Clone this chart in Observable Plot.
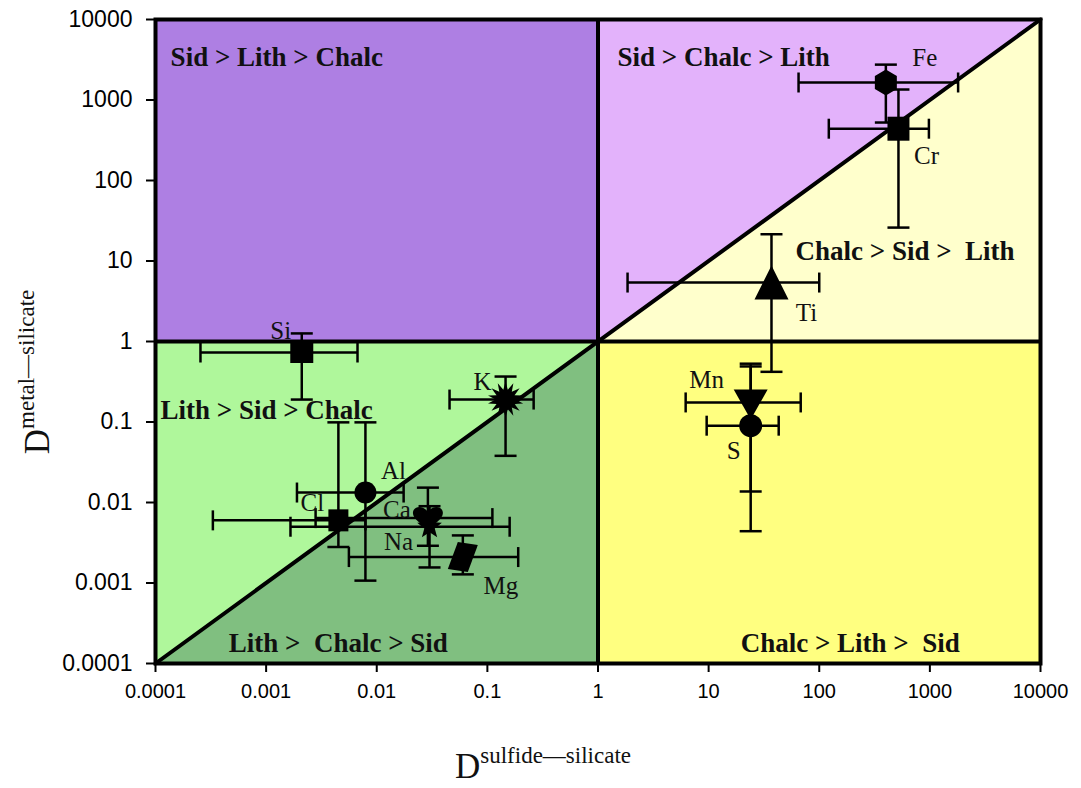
<!DOCTYPE html>
<html>
<head>
<meta charset="utf-8">
<script src="https://cdn.jsdelivr.net/npm/d3@7"></script>
<script src="https://cdn.jsdelivr.net/npm/@observablehq/plot@0.6"></script>
<style>
  body { margin: 0; background: #fff; }
  #chart svg { display: block; background: #fff; overflow: visible; }
</style>
</head>
<body>
<div id="chart"></div>
<script>
// Partition coefficients (sulfide/silicate vs metal/silicate) with error ranges
const elements     = ["Fe", "Cr", "Ti", "Mn", "S", "Si", "K", "Al", "Cl", "Ca", "Na", "Mg"];
const dSulfide     = [400, 520, 37, 24, 24, 0.0021, 0.146, 0.0079, 0.0045, 0.029, 0.030, 0.060];
const dSulfideLow  = [65, 122, 1.85, 6.2, 9.6, 0.000255, 0.0455, 0.0019, 0.00033, 0.0028, 0.00166, 0.0056];
const dSulfideHigh = [1800, 980, 100, 68, 43, 0.0067, 0.262, 0.0175, 0.0079, 0.111, 0.159, 0.19];
const dMetal       = [1650, 440, 5.4, 0.175, 0.09, 0.73, 0.19, 0.0133, 0.006, 0.0064, 0.005, 0.0021];
const dMetalLow    = [525, 26, 0.42, 0.0137, 0.0044, 0.19, 0.038, 0.00107, 0.0028, 0.0029, 0.00156, 0.00128];
const dMetalHigh   = [2750, 1350, 21.5, 0.53, 0.49, 1.26, 0.367, 0.099, 0.099, 0.0153, 0.009, 0.0039];

const tickValues = [0.0001, 0.001, 0.01, 0.1, 1, 10, 100, 1000, 10000];

// Geochemical affinity fields and where their names sit (data units)
const fieldNames = ["Sid > Lith > Chalc", "Sid > Chalc > Lith", "Chalc > Sid >  Lith",
                    "Lith > Sid > Chalc", "Lith >  Chalc > Sid", "Chalc > Lith >  Sid"];
const fieldNameX = [0.000137, 1.5, 61, 0.000111, 0.00046, 19.5];
const fieldNameY = [3370, 3370, 13.1, 0.139, 0.000178, 0.000178];

const lo = 0.0001, hi = 10000;

const rows = elements.map((el, i) => ({
  el, x: dSulfide[i], xLow: dSulfideLow[i], xHigh: dSulfideHigh[i],
  y: dMetal[i], yLow: dMetalLow[i], yHigh: dMetalHigh[i]
}));
const fields = fieldNames.map((name, i) => ({name, x: fieldNameX[i], y: fieldNameY[i]}));

// Marker shapes drawn in pixel units
const shape = pts => ({draw(c) {
  c.moveTo(pts[0][0], pts[0][1]);
  for (const [px, py] of pts.slice(1)) c.lineTo(px, py);
  c.closePath();
}});
const disc = r => ({draw(c) { c.moveTo(r, 0); c.arc(0, 0, r, 0, 2 * Math.PI); }});
const box = (w, h) => shape([[-w/2, -h/2], [w/2, -h/2], [w/2, h/2], [-w/2, h/2]]);
const hexagon = (w, h) => shape([[0, -h/2], [w/2, -h/4], [w/2, h/4], [0, h/2], [-w/2, h/4], [-w/2, -h/4]]);
const star = (n, ro, ri) => shape(d3.range(2 * n).map(i => {
  const a = Math.PI * i / n - Math.PI / 2, r = i % 2 ? ri : ro;
  return [r * Math.cos(a), r * Math.sin(a)];
}));
const heart = {draw(c) {
  c.moveTo(0, 12);
  c.bezierCurveTo(-6, 6, -15, 1, -15, -5);
  c.bezierCurveTo(-15, -12, -5, -14, 0, -6);
  c.bezierCurveTo(5, -14, 15, -12, 15, -5);
  c.bezierCurveTo(15, 1, 6, 6, 0, 12);
  c.closePath();
}};
const hCap = {draw(c) { c.moveTo(-11, 0); c.lineTo(11, 0); }};
const vCap = {draw(c) { c.moveTo(0, -10); c.lineTo(0, 10); }};

const markerOf = {
  Fe: hexagon(22, 26),
  Cr: box(22, 24),
  Ti: shape([[0, -17], [17, 17], [-17, 17]]),
  Mn: shape([[-17, -13], [17, -13], [0, 17]]),
  S: disc(11.5),
  Si: box(23, 21),
  K: star(14, 18, 10),
  Al: disc(11),
  Cl: box(20, 22),
  Ca: heart,
  Na: star(5, 13, 5.5),
  Mg: shape([[-5, -15], [15, -12], [5, 15], [-15, 12]])
};
// Name placement next to each marker (pixels)
const nameOffset = {
  Fe: [39, -24], Cr: [28, 27], Ti: [35, 30], Mn: [-44, -22], S: [-17, 25], Si: [-21, -22],
  K: [-23, -18], Al: [28, -22], Cl: [-26, -17], Ca: [-31, -8], Na: [-31, 15], Mg: [38, 29]
};

const serif = "'Liberation Serif', 'Times New Roman', serif";
const sans = "'Liberation Sans', Arial, sans-serif";
const ink = "#000";

const plot = Plot.plot({
  width: 1081,
  height: 788,
  marginLeft: 155,
  marginRight: 41,
  marginTop: 19,
  marginBottom: 125,
  x: {type: "log", domain: [lo, hi]},
  y: {type: "log", domain: [lo, hi]},
  marks: [
    // Quadrant fields
    Plot.rect([{x1: lo, x2: 1, y1: 1, y2: hi}], {x1: "x1", x2: "x2", y1: "y1", y2: "y2", fill: "#ae7fe3"}),
    Plot.rect([{x1: 1, x2: hi, y1: lo, y2: 1}], {x1: "x1", x2: "x2", y1: "y1", y2: "y2", fill: "#ffff80"}),
    Plot.area([{x: 1}, {x: hi}], {x1: "x", y1: d => d.x, y2: hi, fill: "#e3b2fb"}),
    Plot.area([{x: 1}, {x: hi}], {x1: "x", y1: 1, y2: d => d.x, fill: "#ffffcc"}),
    Plot.area([{x: lo}, {x: 1}], {x1: "x", y1: d => d.x, y2: 1, fill: "#aff79b"}),
    Plot.area([{x: lo}, {x: 1}], {x1: "x", y1: lo, y2: d => d.x, fill: "#80bf80"}),
    // Field names
    Plot.text(fields, {x: "x", y: "y", text: "name", textAnchor: "start", fontSize: 27,
      fontWeight: "bold", fontFamily: serif, fill: "#111", style: "white-space: pre"}),
    // Field boundaries
    Plot.line([{x: lo}, {x: hi}], {x: "x", y: "x", stroke: ink, strokeWidth: 4}),
    Plot.ruleX([1], {y1: lo, y2: hi, stroke: ink, strokeWidth: 4}),
    Plot.ruleY([1], {x1: lo, x2: hi, stroke: ink, strokeWidth: 4}),
    // Error ranges
    Plot.ruleX(rows, {x: "x", y1: "yLow", y2: "yHigh", stroke: ink, strokeWidth: 2.5}),
    Plot.ruleY(rows, {y: "y", x1: "xLow", x2: "xHigh", stroke: ink, strokeWidth: 2.5}),
    Plot.dot(rows, {x: "x", y: "yLow", symbol: hCap, fill: "none", stroke: ink, strokeWidth: 2.5}),
    Plot.dot(rows, {x: "x", y: "yHigh", symbol: hCap, fill: "none", stroke: ink, strokeWidth: 2.5}),
    Plot.dot(rows, {x: "xLow", y: "y", symbol: vCap, fill: "none", stroke: ink, strokeWidth: 2.5}),
    Plot.dot(rows, {x: "xHigh", y: "y", symbol: vCap, fill: "none", stroke: ink, strokeWidth: 2.5}),
    // Markers and element names
    ...rows.map(d => Plot.dot([d], {x: "x", y: "y", symbol: markerOf[d.el], fill: ink, stroke: "none"})),
    ...rows.map(d => Plot.text([d], {x: "x", y: "y", text: "el", dx: nameOffset[d.el][0], dy: nameOffset[d.el][1],
      fontSize: 25, fontFamily: serif, fill: "#111"})),
    Plot.frame({stroke: ink, strokeWidth: 4}),
    Plot.axisX({ticks: tickValues, tickFormat: d => String(d), tickSize: 9, tickPadding: 11,
      fontSize: 20, fontFamily: sans, label: null, stroke: ink, strokeWidth: 2}),
    Plot.axisY({ticks: tickValues, tickFormat: d => String(d), tickSize: 9, tickPadding: 14,
      fontSize: 23, fontFamily: sans, label: null, stroke: ink, strokeWidth: 2})
  ]
});

document.getElementById("chart").appendChild(plot);

const svg = d3.select(plot);

// Axis titles with superscripted partition labels
const xTitle = svg.append("text")
  .attr("x", 543).attr("y", 778)
  .attr("text-anchor", "middle")
  .attr("font-family", serif).attr("fill", "#111");
xTitle.append("tspan").attr("font-size", 35).text("D");
xTitle.append("tspan").attr("font-size", 23).attr("dy", -15).text("sulfide—silicate");

const yTitle = svg.append("text")
  .attr("transform", "translate(49,372) rotate(-90)")
  .attr("text-anchor", "middle")
  .attr("font-family", serif).attr("fill", "#111");
yTitle.append("tspan").attr("font-size", 35).text("D");
yTitle.append("tspan").attr("font-size", 23).attr("dy", -15).text("metal—silicate");
</script>
</body>
</html>
